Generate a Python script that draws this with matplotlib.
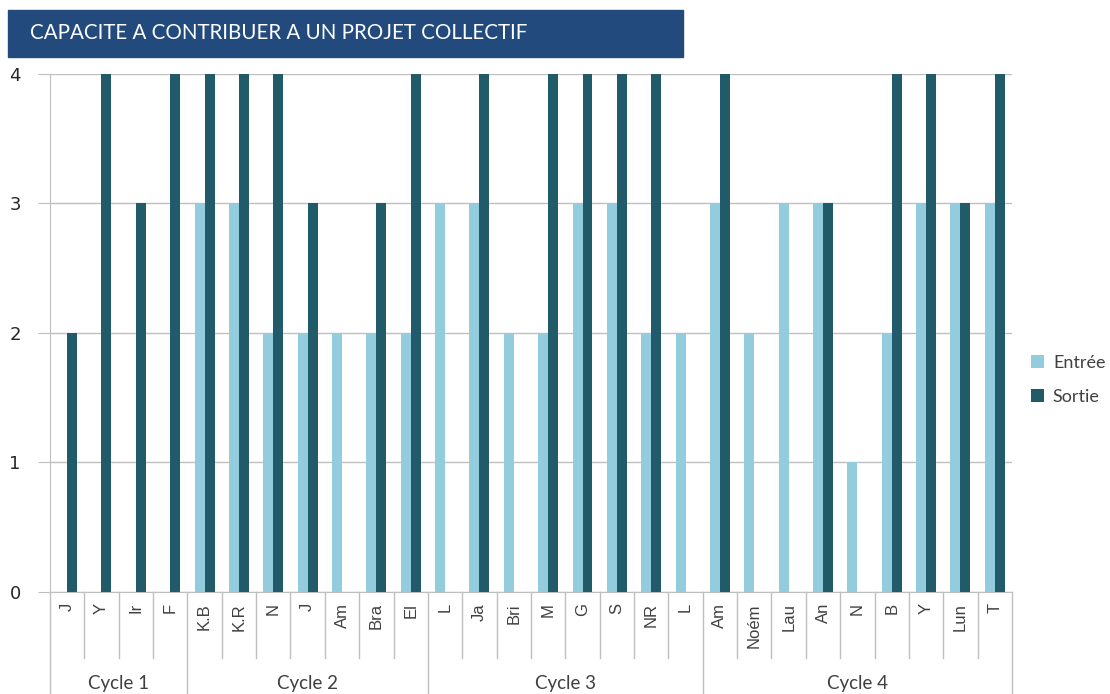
"""
Bar chart: capacité à contribuer à un projet collectif, entrée vs sortie, par cycle.
"""
import matplotlib
matplotlib.use("Agg")
import matplotlib.pyplot as plt
from matplotlib.patches import Rectangle
import numpy as np

# one entry per pupil, grouped by cycle
cycles = ["Cycle 1", "Cycle 2", "Cycle 3", "Cycle 4"]
cycle_sizes = [4, 7, 8, 9]
names = [
    "J", "Y", "Ir", "F",
    "K.B", "K.R", "N", "J", "Am", "Bra", "El",
    "L", "Ja", "Bri", "M", "G", "S", "NR", "L",
    "Am", "Noém", "Lau", "An", "N", "B", "Y", "Lun", "T",
]
entree = [
    0, 0, 0, 0,
    3, 3, 2, 2, 2, 2, 2,
    3, 3, 2, 2, 3, 3, 2, 2,
    3, 2, 3, 3, 1, 2, 3, 3, 3,
]
sortie = [
    2, 4, 3, 4,
    4, 4, 4, 3, 0, 3, 4,
    0, 4, 0, 4, 4, 4, 4, 0,
    4, 0, 0, 3, 0, 4, 4, 3, 4,
]

LIGHT = "#93cddd"
DARK = "#215a69"
GRID = "#bfbfbf"
TEXT = "#404040"

fig = plt.figure(figsize=(11.1, 6.94), dpi=100)
ax = fig.add_axes([0.045, 0.147, 0.8667, 0.7464])

x = np.arange(len(names))
w = 0.29
ax.bar(x - w / 2, entree, width=w, color=LIGHT, label="Entrée", zorder=3)
ax.bar(x + w / 2, sortie, width=w, color=DARK, label="Sortie", zorder=3)

ax.set_xlim(-0.5, len(names) - 0.5)
ax.set_ylim(0, 4)
ax.set_yticks([0, 1, 2, 3, 4])
ax.yaxis.grid(True, color=GRID, linewidth=1.0, zorder=0)
ax.tick_params(axis="y", length=9, color=GRID, labelsize=13, labelcolor="#262626", pad=12)
ax.set_xticks(x)
ax.set_xticklabels(names, rotation=90, fontsize=12, color=TEXT, family="Liberation Sans")
ax.tick_params(axis="x", length=0, pad=8)
for s in ("top", "right"):
    ax.spines[s].set_visible(False)
ax.spines["bottom"].set_color(GRID)
ax.spines["left"].set_color(GRID)

# separators under the axis: short ones between names, long ones between cycles
trans = ax.get_xaxis_transform()
bounds = np.cumsum([0] + cycle_sizes)
for i in range(len(names) + 1):
    bottom = -0.197 if i in bounds else -0.127
    ax.plot([i - 0.5, i - 0.5], [0, bottom], color=GRID, linewidth=1.0,
            transform=trans, clip_on=False)
for label, a, b in zip(cycles, bounds[:-1], bounds[1:]):
    ax.text((a + b - 1) / 2, -0.176, label, transform=trans, ha="center", va="center",
            fontsize=13.5, color=TEXT, family="Lato")

leg = ax.legend(loc="center left", bbox_to_anchor=(1.02, 0.41), frameon=False,
                borderaxespad=0, borderpad=0,
                handlelength=0.7, handleheight=0.7, handletextpad=0.5,
                labelspacing=1.0, prop={"family": "Lato", "size": 13})
for t in leg.get_texts():
    t.set_color(TEXT)

# title banner
fig.patches.append(Rectangle((8 / 1110, 1 - 57 / 694), 675 / 1110, 47 / 694,
                             transform=fig.transFigure, color="#224a7c", zorder=0))
fig.text(30 / 1110, 1 - 33 / 694, "CAPACITE A CONTRIBUER A UN PROJET COLLECTIF",
         color="white", fontsize=14.8, family="Lato", va="center", ha="left")

fig.savefig("out.png", dpi=100)
